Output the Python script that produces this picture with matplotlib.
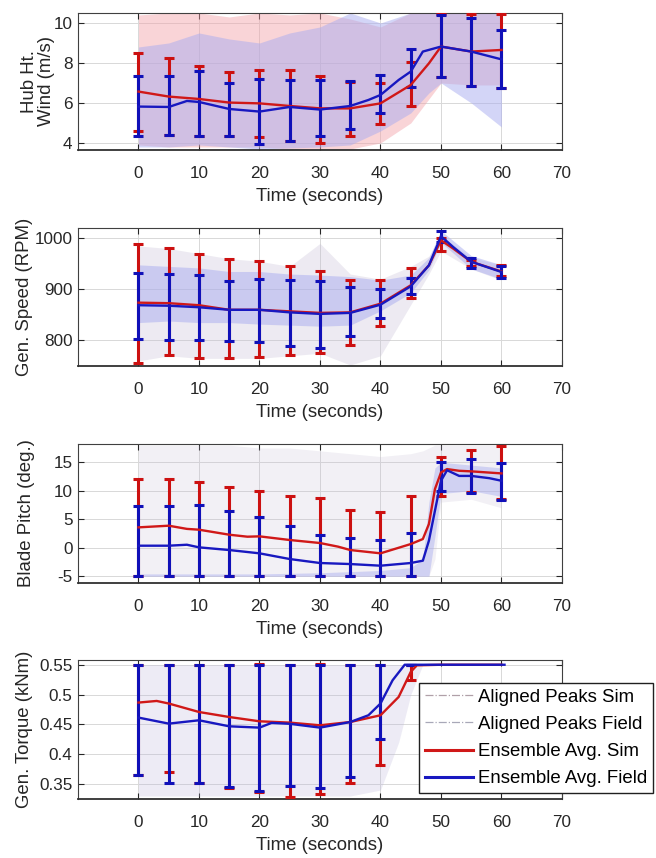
import numpy as np
import matplotlib
matplotlib.use("Agg")
import matplotlib.pyplot as plt
from matplotlib.lines import Line2D

plt.rcParams['font.family'] = ['Liberation Sans', 'DejaVu Sans']

# ---------------- data ----------------
t_err = [0, 5, 10, 15, 20, 25, 30, 35, 40, 45, 50, 55, 60]

# Panel 1: hub height wind (m/s)
wind_sim_lo = [4.6, 4.4, 4.35, 4.35, 4.28, 4.1, 4.02, 4.35, 4.93, 5.85, 7.3, 6.85, 6.75]
wind_sim_hi = [8.48, 8.23, 7.87, 7.57, 7.65, 7.65, 7.37, 7.05, 6.98, 8.07, 10.45, 10.45, 10.45]
wind_fld_lo = [4.35, 4.4, 4.35, 4.35, 3.95, 4.12, 4.35, 4.68, 5.52, 6.82, 7.32, 6.85, 6.73]
wind_fld_hi = [7.37, 7.37, 7.62, 7.02, 7.2, 7.15, 7.15, 7.1, 7.38, 8.68, 10.4, 10.23, 9.65]
wind_sim_t = [0, 5, 10, 15, 20, 25, 30, 35, 40, 45, 48, 50, 55, 60]
wind_sim_avg = [6.57, 6.32, 6.2, 6.02, 5.98, 5.85, 5.73, 5.73, 5.98, 6.9, 7.98, 8.82, 8.57, 8.65]
wind_fld_t = [0, 5, 8, 10, 15, 20, 25, 30, 35, 38, 40, 43, 45, 47, 50, 55, 60]
wind_fld_avg = [5.82, 5.8, 6.1, 6.05, 5.7, 5.57, 5.8, 5.67, 5.85, 6.15, 6.4, 7.15, 7.57, 8.57, 8.82, 8.57, 8.18]
band_t = [0, 5, 10, 15, 20, 25, 30, 35, 40, 45, 48, 50, 55, 60]
wind_sim_band_lo = [3.9, 3.8, 3.8, 3.8, 3.8, 3.7, 3.7, 3.7, 4.0, 5.0, 6.2, 7.0, 6.9, 6.9]
wind_sim_band_hi = [10.4, 10.5, 10.5, 10.3, 10.5, 10.4, 10.5, 10.2, 9.8, 10.5, 10.5, 10.5, 10.5, 10.5]
wind_fld_band_lo = [3.8, 3.8, 3.9, 3.8, 3.7, 3.75, 3.8, 3.9, 4.6, 5.5, 6.5, 7.0, 6.0, 4.8]
wind_fld_band_hi = [8.8, 9.0, 9.5, 9.2, 9.0, 9.5, 9.8, 10.5, 10.0, 10.5, 10.5, 10.5, 10.5, 10.5]

# Panel 2: generator speed (RPM)
spd_sim_lo = [756, 771, 765, 765, 767, 772, 776, 792, 828, 883, 976, 945, 927]
spd_sim_hi = [988, 981, 970, 960, 956, 946, 936, 918, 918, 941, 1000, 958, 948]
spd_fld_lo = [803, 801, 801, 799, 797, 790, 786, 809, 844, 890, 992, 942, 922]
spd_fld_hi = [933, 931, 929, 916, 920, 918, 916, 905, 900, 923, 1014, 961, 946]
spd_t = [0, 5, 10, 15, 20, 25, 30, 35, 40, 45, 48, 50, 52, 55, 60]
spd_sim_avg = [874, 873, 869, 860, 860, 857, 854, 855, 872, 908, 947, 996, 980, 954, 935]
spd_fld_avg = [869, 868, 865, 860, 860, 855, 852, 854, 870, 906, 947, 1004, 983, 954, 934]
spd_sim_band_lo = [760, 770, 765, 765, 765, 770, 775, 752, 770, 870, 930, 975, 940, 918]
spd_sim_band_hi = [985, 980, 970, 960, 955, 945, 990, 930, 920, 945, 965, 1005, 962, 948]
spd_fld_band_lo = [835, 838, 835, 835, 832, 830, 828, 830, 858, 893, 938, 992, 940, 920]
spd_fld_band_hi = [948, 945, 942, 935, 935, 930, 928, 925, 918, 928, 962, 1015, 966, 948]

# Panel 3: blade pitch (deg.)
pit_sim_lo = [-5, -5, -5, -5, -5, -5, -5, -5, -5, -5, 9.0, 9.8, 8.5]
pit_sim_hi = [12.05, 12.05, 11.46, 10.58, 10.0, 9.0, 8.65, 6.67, 6.2, 9.0, 16.0, 17.2, 17.8]
pit_fld_lo = [-5, -5, -5, -5, -5, -5, -5, -5, -5, -5, 10.0, 9.6, 8.42]
pit_fld_hi = [7.25, 7.25, 7.54, 6.49, 5.32, 3.74, 2.28, 1.7, 1.4, 2.57, 14.97, 15.56, 14.85]
pit_sim_t = [0, 5, 8, 10, 15, 18, 20, 25, 30, 33, 35, 40, 45, 47, 48, 49, 50, 51, 53, 55, 60]
pit_sim_avg = [3.57, 3.86, 3.3, 3.16, 2.28, 1.93, 1.99, 1.35, 0.82, 0.18, -0.41, -0.99, 0.64, 1.52,
               4.15, 10.3, 13.2, 13.8, 13.5, 13.4, 13.04]
pit_fld_t = [0, 5, 8, 10, 15, 20, 25, 30, 35, 40, 45, 47, 48, 49, 50, 51, 53, 55, 58, 60]
pit_fld_avg = [0.35, 0.35, 0.52, 0.06, -0.41, -0.99, -1.99, -2.69, -2.87, -3.16, -2.69, -2.28,
               1.23, 6.49, 11.75, 13.6, 12.6, 12.6, 12.2, 11.75]
pit_band_t = [0, 5, 10, 15, 20, 25, 30, 35, 40, 45, 47, 48, 49, 50, 55, 60]
pit_sim_band_lo = [-5, -5, -5, -5, -5, -5, -5, -5, -5, -5, -5, -5, -2, 8.0, 8.5, 7.0]
pit_sim_band_hi = [18, 18, 18, 18, 17.5, 17.5, 17.0, 16.5, 16.0, 16.5, 17.0, 17.5, 18, 18, 18, 18]
pit_fld_band_lo = [-5, -5, -5, -5, -5, -5, -5, -5, -5, -5, -5, -5, 2.0, 9.5, 10.0, 9.0]
pit_fld_band_hi = [-4.6, -4.6, -4.6, -4.6, -4.6, -4.5, -4.4, -4.2, -4.0, -3.5, -2.0, 8.0, 14.0, 15.0, 14.5, 14.0]

# Panel 4: generator torque (kNm)
t_err_tq = [0, 5, 10, 15, 20, 25, 30, 35, 40, 45]
tq_sim_lo = [0.365, 0.370, 0.352, 0.343, 0.337, 0.328, 0.3327, 0.351, 0.3813, 0.5252]
tq_sim_hi = [0.55, 0.55, 0.55, 0.55, 0.552, 0.55, 0.552, 0.55, 0.55, 0.55]
tq_fld_lo = [0.3646, 0.3517, 0.352, 0.345, 0.338, 0.3467, 0.3433, 0.361, 0.4262, 0.55]
tq_fld_hi = [0.55, 0.55, 0.55, 0.55, 0.55, 0.55, 0.55, 0.55, 0.55, 0.55]
tq_sim_t = [0, 3, 5, 10, 15, 20, 25, 30, 35, 40, 43, 45, 46, 50, 55, 60]
tq_sim_avg = [0.4866, 0.4893, 0.485, 0.4708, 0.4624, 0.4552, 0.453, 0.4485, 0.454, 0.4653, 0.496,
              0.538, 0.549, 0.55, 0.55, 0.55]
tq_fld_t = [0, 5, 10, 15, 20, 22, 25, 30, 35, 38, 40, 42, 44, 45, 50, 55, 60.5]
tq_fld_avg = [0.4614, 0.4513, 0.4569, 0.4468, 0.4446, 0.4525, 0.451, 0.4446, 0.454, 0.4653, 0.485,
              0.524, 0.55, 0.55, 0.55, 0.55, 0.55]
tq_band_t = [0, 5, 10, 15, 20, 25, 30, 35, 40, 43, 45, 47]
tq_band_lo = [0.33, 0.33, 0.33, 0.33, 0.33, 0.33, 0.33, 0.33, 0.34, 0.42, 0.50, 0.55]
tq_band_hi = [0.55, 0.55, 0.55, 0.55, 0.55, 0.55, 0.55, 0.55, 0.55, 0.55, 0.55, 0.55]

legend_labels = ["Aligned Peaks Sim", "Aligned Peaks Field", "Ensemble Avg. Sim", "Ensemble Avg. Field"]

# ---------------- style ----------------
RED = '#d01818'
BLUE = '#1818c0'
RED_ERR = '#cc1010'
BLUE_ERR = '#1010b8'
LRED = '#f2a0a8'
LBLUE = '#a8acf0'
LGREY = '#c4bcd4'
TXT = '#262626'

fig = plt.figure(figsize=(6.56, 8.58), dpi=100)
W = 0.7378
rects = [
    (0.1189, 0.8252, W, 0.1597),
    (0.1189, 0.5734, W, 0.1608),
    (0.1189, 0.3205, W, 0.1620),
    (0.1189, 0.0688, W, 0.1620),
]
axes = [fig.add_axes(r) for r in rects]


def style(ax, ylim, yticks, yticklabels, ylabel, labx):
    ax.set_xlim(-10, 70)
    ax.set_ylim(*ylim)
    ax.set_xticks([0, 10, 20, 30, 40, 50, 60, 70])
    ax.set_yticks(yticks)
    ax.set_yticklabels(yticklabels)
    ax.grid(True, color='#d8d8d8', lw=0.7)
    ax.set_axisbelow(True)
    ax.tick_params(direction='in', top=True, right=True, length=4, width=0.8,
                   colors=TXT, labelsize=12.3, pad=11.5)
    ax.tick_params(axis='y', pad=4)
    for s in ax.spines.values():
        s.set_color('#404040')
        s.set_linewidth(0.8)
    ax.spines['bottom'].set_linewidth(1.3)
    ax.spines['bottom'].set_color('#303030')
    ax.set_xlabel('Time (seconds)', fontsize=13.4, color=TXT, labelpad=5)
    ax.set_ylabel(ylabel, fontsize=13.4, color=TXT, linespacing=0.95)
    ax.yaxis.set_label_coords(labx, 0.5)


def draw(ax, bt, s_lo, s_hi, f_t, f_lo, f_hi, te, es_lo, es_hi, ef_lo, ef_hi,
         ts, avg_s, tf, avg_f, s_col=LRED, s_alpha=0.45, f_alpha=0.45):
    ax.fill_between(bt, s_lo, s_hi, color=s_col, alpha=s_alpha, lw=0)
    ax.fill_between(f_t, f_lo, f_hi, color=LBLUE, alpha=f_alpha, lw=0)
    es_lo = np.array(es_lo); es_hi = np.array(es_hi)
    ef_lo = np.array(ef_lo); ef_hi = np.array(ef_hi)
    ax.errorbar(te, (es_lo + es_hi) / 2, yerr=(es_hi - es_lo) / 2, fmt='none',
                ecolor=RED_ERR, elinewidth=2.2, capsize=3.4, capthick=2.2, zorder=3)
    ax.errorbar(te, (ef_lo + ef_hi) / 2, yerr=(ef_hi - ef_lo) / 2, fmt='none',
                ecolor=BLUE_ERR, elinewidth=2.2, capsize=3.4, capthick=2.2, zorder=4)
    ax.plot(ts, avg_s, color=RED, lw=1.7, zorder=5)
    ax.plot(tf, avg_f, color=BLUE, lw=1.7, zorder=6)


# panel 1
ax = axes[0]
draw(ax, band_t, wind_sim_band_lo, wind_sim_band_hi, band_t, wind_fld_band_lo, wind_fld_band_hi,
     t_err, wind_sim_lo, wind_sim_hi, wind_fld_lo, wind_fld_hi,
     wind_sim_t, wind_sim_avg, wind_fld_t, wind_fld_avg, s_alpha=0.45, f_alpha=0.5)
style(ax, (3.65, 10.5), [4, 6, 8, 10], ['4', '6', '8', '10'], 'Hub Ht.\nWind (m/s)', -0.048)

# panel 2
ax = axes[1]
draw(ax, band_t, spd_sim_band_lo, spd_sim_band_hi, band_t, spd_fld_band_lo, spd_fld_band_hi,
     t_err, spd_sim_lo, spd_sim_hi, spd_fld_lo, spd_fld_hi,
     spd_t, spd_sim_avg, spd_t, spd_fld_avg, s_col=LGREY, s_alpha=0.3, f_alpha=0.5)
style(ax, (750, 1020), [800, 900, 1000], ['800', '900', '1000'], 'Gen. Speed (RPM)', -0.093)

# panel 3
ax = axes[2]
draw(ax, pit_band_t, pit_sim_band_lo, pit_sim_band_hi, pit_band_t, pit_fld_band_lo, pit_fld_band_hi,
     t_err, pit_sim_lo, pit_sim_hi, pit_fld_lo, pit_fld_hi,
     pit_sim_t, pit_sim_avg, pit_fld_t, pit_fld_avg, s_col=LGREY, s_alpha=0.22, f_alpha=0.45)
style(ax, (-6.2, 18.2), [-5, 0, 5, 10, 15], ['-5', '0', '5', '10', '15'], 'Blade Pitch (deg.)', -0.089)

# panel 4
ax = axes[3]
draw(ax, tq_band_t, tq_band_lo, tq_band_hi, tq_band_t, tq_band_lo, tq_band_hi,
     t_err_tq, tq_sim_lo, tq_sim_hi, tq_fld_lo, tq_fld_hi,
     tq_sim_t, tq_sim_avg, tq_fld_t, tq_fld_avg, s_col=LGREY, s_alpha=0.2, f_alpha=0.08)
style(ax, (0.325, 0.558), [0.35, 0.4, 0.45, 0.5, 0.55], ['0.35', '0.4', '0.45', '0.5', '0.55'],
      'Gen. Torque (kNm)', -0.093)

handles = [
    Line2D([], [], color='#b0a0a8', lw=0.9, ls='-.'),
    Line2D([], [], color='#a8a8b8', lw=0.9, ls='-.'),
    Line2D([], [], color=RED, lw=2.2),
    Line2D([], [], color=BLUE, lw=2.2),
]
leg = ax.legend(handles, legend_labels, loc='lower left', bbox_to_anchor=(0.705, 0.043),
                fontsize=13.4, frameon=True, fancybox=False, edgecolor='#202020',
                framealpha=1, handlelength=2.6, handletextpad=0.25, labelspacing=0.55,
                borderpad=0.3, borderaxespad=0)
leg.get_frame().set_linewidth(1.0)
leg.set_zorder(10)

fig.savefig('out.png', dpi=100)
